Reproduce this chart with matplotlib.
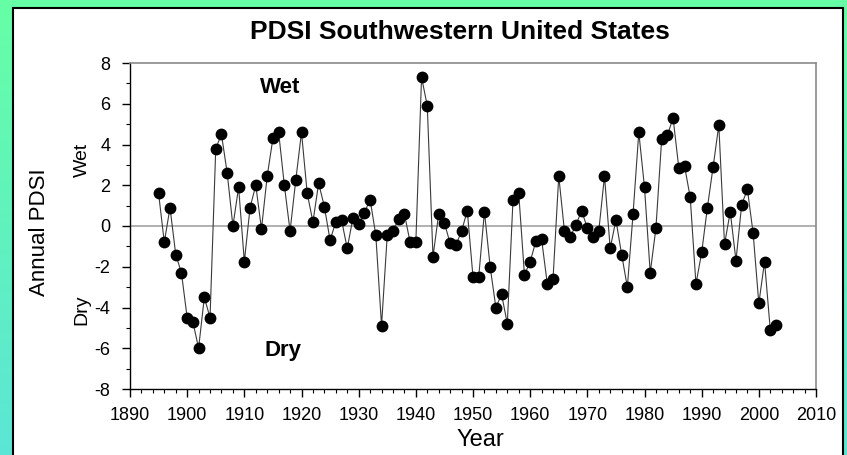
import numpy as np
import matplotlib
matplotlib.use("Agg")
from matplotlib import pyplot as plt
from matplotlib.patches import Rectangle
from matplotlib.ticker import MultipleLocator

plt.rcParams['font.family'] = ['Liberation Sans Narrow', 'Liberation Sans', 'DejaVu Sans']
plt.rcParams['axes.unicode_minus'] = False

# annual PDSI, southwestern US
years = list(range(1895, 2004))
pdsi = [
    1.6, -0.8, 0.9, -1.4, -2.3, -4.5, -4.7, -6.0, -3.5, -4.5,      # 1895-1904
    3.8, 4.5, 2.6, 0.0, 1.9, -1.75, 0.9, 2.0, -0.15, 2.45,          # 1905-1914
    4.3, 4.6, 2.0, -0.25, 2.25, 4.6, 1.6, 0.2, 2.1, 0.95,           # 1915-1924
    -0.7, 0.2, 0.3, -1.1, 0.4, 0.1, 0.65, 1.3, -0.45, -4.9,         # 1925-1934
    -0.45, -0.25, 0.35, 0.6, -0.8, -0.8, 7.3, 5.9, -1.5, 0.6,       # 1935-1944
    0.15, -0.85, -0.95, -0.25, 0.75, -2.5, -2.5, 0.7, -2.0, -4.0,   # 1945-1954
    -3.35, -4.8, 1.3, 1.6, -2.4, -1.75, -0.75, -0.65, -2.85, -2.6,  # 1955-1964
    2.45, -0.25, -0.55, 0.05, 0.75, -0.1, -0.55, -0.25, 2.45, -1.1, # 1965-1974
    0.3, -1.4, -3.0, 0.6, 4.6, 1.9, -2.3, -0.1, 4.25, 4.45,         # 1975-1984
    5.3, 2.85, 2.95, 1.4, -2.85, -1.3, 0.9, 2.9, 4.95, -0.9,        # 1985-1994
    0.7, -1.7, 1.05, 1.8, -0.35, -3.8, -1.75, -5.1, -4.85,          # 1995-2003
]

W, H = 847, 455
fig = plt.figure(figsize=(W / 100, H / 100), dpi=100)

# green-to-cyan backdrop with a white panel on top
bg = fig.add_axes([0, 0, 1, 1], zorder=-10)
grad = np.linspace(0, 1, 256).reshape(-1, 1)
top_c = np.array([0.40, 1.00, 0.65])
bot_c = np.array([0.36, 0.90, 0.84])
img = top_c + (bot_c - top_c) * grad[:, :, None]
bg.imshow(img, aspect='auto', extent=[0, W, 0, H])
bg.add_patch(Rectangle((13, -5), 830, H - 3, facecolor='white',
                       edgecolor='black', linewidth=1.5))
bg.set_xlim(0, W)
bg.set_ylim(0, H)
bg.axis('off')

ax = fig.add_axes([130 / W, 66 / H, 686 / W, 326 / H])
ax.set_facecolor('none')
ax.axhline(0, color='#b0b0b0', linewidth=1.4, zorder=1)
ax.plot(years, pdsi, color='#3a3a3a', linewidth=0.8, marker='o',
        markersize=7.5, markerfacecolor='black', markeredgecolor='black', zorder=3)

ax.set_xlim(1890, 2010)
ax.set_ylim(-8, 8)
ax.xaxis.set_major_locator(MultipleLocator(10))
ax.xaxis.set_minor_locator(MultipleLocator(2))
ax.yaxis.set_major_locator(MultipleLocator(2))
ax.yaxis.set_minor_locator(MultipleLocator(1))
ax.tick_params(which='major', direction='out', length=6, width=1, labelsize=13)
ax.tick_params(axis='y', which='major', pad=8)
ax.tick_params(axis='x', which='major', pad=7)
ax.tick_params(which='minor', direction='out', length=3, width=0.8)

for side in ('left', 'bottom'):
    ax.spines[side].set_color('black')
    ax.spines[side].set_linewidth(1.0)
for side in ('top', 'right'):
    ax.spines[side].set_color('#8a8a8a')
    ax.spines[side].set_linewidth(1.2)

ax.text(1916.2, 6.8, 'Wet', fontsize=16, fontweight='bold', ha='center', va='center')
ax.text(1916.7, -6.1, 'Dry', fontsize=16, fontweight='bold', ha='center', va='center')

fig.text(0.543, 0.93, 'PDSI Southwestern United States', fontsize=19,
         fontweight='bold', ha='center', va='center')
fig.text(0.567, 0.033, 'Year', fontsize=17, ha='center', va='center')
fig.text(0.047, 0.49, 'Annual PDSI', fontsize=16, rotation=90, ha='center', va='center')
fig.text(0.097, 0.648, 'Wet', fontsize=14, rotation=90, ha='center', va='center')
fig.text(0.097, 0.319, 'Dry', fontsize=14, rotation=90, ha='center', va='center')

fig.savefig('out.png', dpi=100)
